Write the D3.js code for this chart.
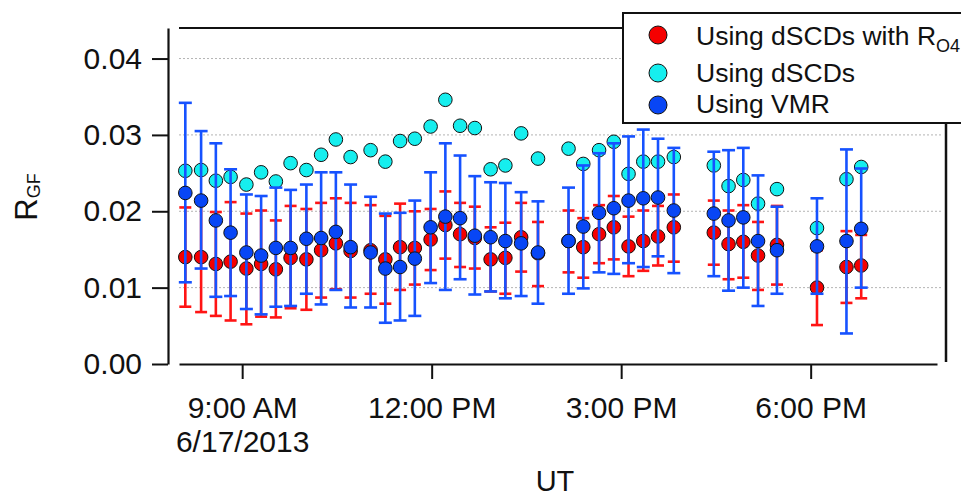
<!DOCTYPE html>
<html>
<head>
<meta charset="utf-8">
<script src="https://cdn.jsdelivr.net/npm/d3@7"></script>
<style>
  html, body { margin: 0; padding: 0; background: #fff; }
  svg { display: block; font-family: "Liberation Sans", Arial, Helvetica, sans-serif; }
</style>
</head>
<body>
<script>
// ---------------- DATA ----------------
const times = ["08:06","08:21","08:35","08:49","09:04","09:18","09:32","09:46","10:01","10:15",
               "10:29","10:43","11:02","11:16","11:30","11:44","11:59","12:13","12:27","12:41",
               "12:56","13:10","13:25","13:41","14:10","14:24","14:39","14:53","15:07","15:21",
               "15:35","15:50","16:28","16:42","16:56","17:10","17:28","18:06","18:34","18:48"];

// Using dSCDs with R_O4 (red) with error bounds
const rgfO4   = [0.0140,0.0140,0.0131,0.0134,0.0125,0.0131,0.0124,0.0139,0.0137,0.0149,
                 0.0158,0.0148,0.0149,0.0137,0.0153,0.0152,0.0163,0.0182,0.0170,0.0165,
                 0.0137,0.0139,0.0166,0.0145,0.0161,0.0153,0.0170,0.0179,0.0154,0.0161,
                 0.0167,0.0179,0.0172,0.0157,0.0160,0.0142,0.0156,0.0100,0.0127,0.0129];
const rgfO4Hi = [0.0205,0.0212,0.0199,0.0212,0.0197,0.0201,0.0188,0.0207,0.0203,0.0211,
                 0.0217,0.0211,0.0208,0.0194,0.0210,0.0200,0.0203,0.0226,0.0211,0.0206,
                 0.0179,0.0185,0.0211,0.0186,0.0201,0.0191,0.0208,0.0220,0.0193,0.0201,
                 0.0207,0.0222,0.0214,0.0201,0.0208,0.0186,0.0207,0.0149,0.0174,0.0169];
const rgfO4Lo = [0.0075,0.0068,0.0063,0.0057,0.0052,0.0062,0.0061,0.0073,0.0071,0.0087,
                 0.0098,0.0087,0.0092,0.0079,0.0097,0.0104,0.0123,0.0138,0.0127,0.0125,
                 0.0095,0.0092,0.0121,0.0102,0.0120,0.0113,0.0132,0.0137,0.0115,0.0122,
                 0.0129,0.0134,0.0130,0.0111,0.0113,0.0097,0.0104,0.0051,0.0080,0.0086];

// Using dSCDs (cyan)
const rgfDscd = [0.0253,0.0254,0.0240,0.0245,0.0235,0.0251,0.0239,0.0263,0.0254,0.0274,
                 0.0294,0.0271,0.0280,0.0265,0.0292,0.0295,0.0311,0.0346,0.0312,0.0309,
                 0.0255,0.0260,0.0302,0.0269,0.0282,0.0262,0.0280,0.0291,0.0249,0.0265,
                 0.0265,0.0271,0.0260,0.0233,0.0241,0.0210,0.0229,0.0178,0.0242,0.0258];

// Using VMR (blue) with error bounds
const rgfVmr   = [0.0224,0.0214,0.0188,0.0172,0.0146,0.0142,0.0152,0.0152,0.0164,0.0165,
                  0.0173,0.0153,0.0146,0.0125,0.0127,0.0138,0.0179,0.0193,0.0191,0.0168,
                  0.0166,0.0161,0.0158,0.0146,0.0161,0.0180,0.0198,0.0204,0.0214,0.0217,
                  0.0218,0.0201,0.0197,0.0188,0.0192,0.0161,0.0149,0.0154,0.0161,0.0177];
const rgfVmrHi = [0.0342,0.0305,0.0289,0.0255,0.0222,0.0220,0.0231,0.0228,0.0235,0.0251,
                  0.0251,0.0235,0.0219,0.0197,0.0198,0.0214,0.0251,0.0289,0.0273,0.0246,
                  0.0238,0.0237,0.0225,0.0213,0.0231,0.0260,0.0276,0.0289,0.0298,0.0307,
                  0.0295,0.0283,0.0278,0.0280,0.0283,0.0247,0.0206,0.0217,0.0281,0.0256];
const rgfVmrLo = [0.0107,0.0125,0.0088,0.0089,0.0072,0.0065,0.0075,0.0076,0.0092,0.0078,
                  0.0097,0.0074,0.0074,0.0054,0.0057,0.0063,0.0106,0.0097,0.0111,0.0091,
                  0.0095,0.0086,0.0089,0.0079,0.0092,0.0099,0.0120,0.0118,0.0132,0.0127,
                  0.0141,0.0119,0.0115,0.0096,0.0100,0.0076,0.0092,0.0092,0.0040,0.0100];

const yTicks = [0, 0.01, 0.02, 0.03, 0.04];
const xTickTimes = ["09:00","12:00","15:00","18:00"];
const xTickLabels = ["9:00 AM","12:00 PM","3:00 PM","6:00 PM"];
const dateLabel = "6/17/2013";
const day = "2013-06-17";
const xDomain = ["08:00","20:00"];
const yDomain = [0, 0.044];

const legendLabels = ["Using dSCDs with R", "Using dSCDs", "Using VMR"];

// ---------------- CHART ----------------
const W = 961, H = 498;
const COL_RED = "#f50000", COL_CYAN = "#16eeee", COL_BLUE = "#0846f5";
const BAR_RED = "#ff1414", BAR_BLUE = "#1652ff";

const parse = d3.utcParse("%Y-%m-%d %H:%M");
const t = s => parse(day + " " + s);

const svg = d3.select("body").append("svg").attr("width", W).attr("height", H);
svg.append("rect").attr("width", W).attr("height", H).attr("fill", "#fff");

const x = d3.scaleUtc().domain(xDomain.map(t)).range([179, 937]);
const y = d3.scaleLinear().domain(yDomain).range([364, 28]);

// grid lines
svg.append("g").selectAll("line").data(yTicks.filter(d => d > 0)).join("line")
  .attr("x1", 179).attr("x2", 943)
  .attr("y1", d => y(d)).attr("y2", d => y(d))
  .attr("stroke", "#b4b4b4").attr("stroke-width", 1).attr("stroke-dasharray", "2,2");

// frame top and right
svg.append("line").attr("x1", 179).attr("x2", 946).attr("y1", y(yDomain[1])).attr("y2", y(yDomain[1]))
  .attr("stroke", "#111").attr("stroke-width", 2.2);
svg.append("line").attr("x1", 946).attr("x2", 946).attr("y1", y(yDomain[1])).attr("y2", 362)
  .attr("stroke", "#111").attr("stroke-width", 2.5);

// y axis
const gy = svg.append("g").attr("transform", "translate(168,0)")
  .call(d3.axisLeft(y).tickValues(yTicks).tickFormat(d3.format(".2f"))
        .tickSize(16).tickSizeOuter(0).tickPadding(10));
gy.select(".domain").attr("stroke", "#111").attr("stroke-width", 2.2);
gy.selectAll(".tick line").attr("stroke", "#111").attr("stroke-width", 2);
gy.selectAll(".tick text").attr("font-size", 30).attr("fill", "#111")
  .attr("font-family", "'Liberation Sans', Arial, sans-serif");

// x axis
const gx = svg.append("g").attr("transform", "translate(0,364)")
  .call(d3.axisBottom(x).tickValues(xTickTimes.map(t)).tickFormat((d, i) => xTickLabels[i])
        .tickSize(15).tickSizeOuter(0));
gx.select(".domain").attr("stroke", "#111").attr("stroke-width", 2.2);
gx.selectAll(".tick line").attr("stroke", "#111").attr("stroke-width", 2);
gx.selectAll(".tick text").attr("font-size", 30).attr("fill", "#111")
  .attr("font-family", "'Liberation Sans', Arial, sans-serif")
  .attr("y", 54).attr("dy", 0);
gx.selectAll(".tick").filter((d, i) => i === 0).append("text")
  .attr("y", 88).attr("fill", "#111").attr("font-size", 30).attr("text-anchor", "middle")
  .attr("font-family", "'Liberation Sans', Arial, sans-serif")
  .text(dateLabel);

// axis titles
svg.append("text").attr("x", 555).attr("y", 491).attr("text-anchor", "middle")
  .attr("font-size", 29).attr("fill", "#111").text("UT");
const yt = svg.append("text").attr("transform", "translate(37,197) rotate(-90)")
  .attr("text-anchor", "middle").attr("font-size", 31).attr("fill", "#111");
yt.append("tspan").text("R");
yt.append("tspan").attr("font-size", 18).attr("dy", 3).text("GF");

// data
const idx = d3.range(times.length);
const X = i => x(t(times[i]));

// cyan points (no error bars)
svg.append("g").selectAll("circle").data(idx).join("circle")
  .attr("cx", X).attr("cy", i => y(rgfDscd[i])).attr("r", 6.8)
  .attr("fill", COL_CYAN).attr("stroke", "#111").attr("stroke-width", 1);

function errorSeries(vals, hi, lo, fill, barCol, capW) {
  const g = svg.append("g");
  const eb = g.append("g").attr("stroke", barCol).attr("stroke-width", 2.6);
  eb.selectAll("line.v").data(idx).join("line").attr("class", "v")
    .attr("x1", X).attr("x2", X).attr("y1", i => y(hi[i])).attr("y2", i => y(lo[i]));
  eb.selectAll("line.h").data(idx).join("line").attr("class", "h")
    .attr("x1", i => X(i) - capW / 2).attr("x2", i => X(i) + capW / 2)
    .attr("y1", i => y(hi[i])).attr("y2", i => y(hi[i]));
  eb.selectAll("line.l").data(idx).join("line").attr("class", "l")
    .attr("x1", i => X(i) - capW / 2).attr("x2", i => X(i) + capW / 2)
    .attr("y1", i => y(lo[i])).attr("y2", i => y(lo[i]));
  g.append("g").selectAll("circle").data(idx).join("circle")
    .attr("cx", X).attr("cy", i => y(vals[i])).attr("r", 6.8)
    .attr("fill", fill).attr("stroke", "#111").attr("stroke-width", 1);
}
errorSeries(rgfO4, rgfO4Hi, rgfO4Lo, COL_RED, BAR_RED, 12);
errorSeries(rgfVmr, rgfVmrHi, rgfVmrLo, COL_BLUE, BAR_BLUE, 13);

// legend
const lg = svg.append("g");
lg.append("rect").attr("x", 623).attr("y", 13).attr("width", 400).attr("height", 110)
  .attr("fill", "#fff").attr("stroke", "#111").attr("stroke-width", 2);
const legendRows = [
  {label: legendLabels[0], fill: COL_RED, cy: 35, by: 45},
  {label: legendLabels[1], fill: COL_CYAN, cy: 73, by: 81.5},
  {label: legendLabels[2], fill: COL_BLUE, cy: 105, by: 113}
];
legendRows.forEach((r, i) => {
  lg.append("circle").attr("cx", 658).attr("cy", r.cy).attr("r", 9)
    .attr("fill", r.fill).attr("stroke", "#111").attr("stroke-width", 1);
  const tx = lg.append("text").attr("x", 696).attr("y", r.by).attr("font-size", 26.5).attr("fill", "#111");
  tx.append("tspan").text(r.label);
  if (i === 0) tx.append("tspan").attr("font-size", 18).attr("dy", 7).text("O4");
});
</script>
</body>
</html>
